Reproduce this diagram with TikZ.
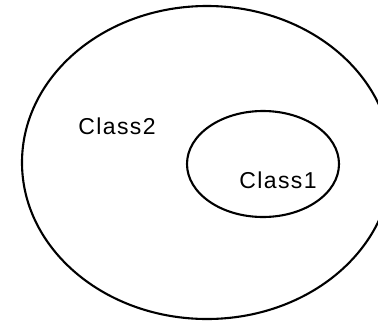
\documentclass[tikz,border=0pt]{standalone}
\usepackage{fontspec}
\setmainfont[LetterSpace=6]{Liberation Sans}
\usetikzlibrary{shapes.geometric}
\begin{document}
\begin{tikzpicture}[x=1pt,y=-1pt,
  setshape/.style={draw=black, line width=2.1pt, ellipse, inner sep=0pt},
  lbl/.style={font=\fontsize{23}{26}\selectfont, inner sep=0pt, anchor=base}]
\useasboundingbox (0,0) rectangle (378,322);
\node[setshape, minimum width=370pt, minimum height=313pt] (outer) at (207,162.5) {};
\node[setshape, minimum width=152pt, minimum height=106pt] (inner) at (263,164) {};
\node[lbl] (c2) at (117,134.5) {Class2};
\node[lbl] (c1) at (278,188) {Class1};
\end{tikzpicture}
\end{document}
